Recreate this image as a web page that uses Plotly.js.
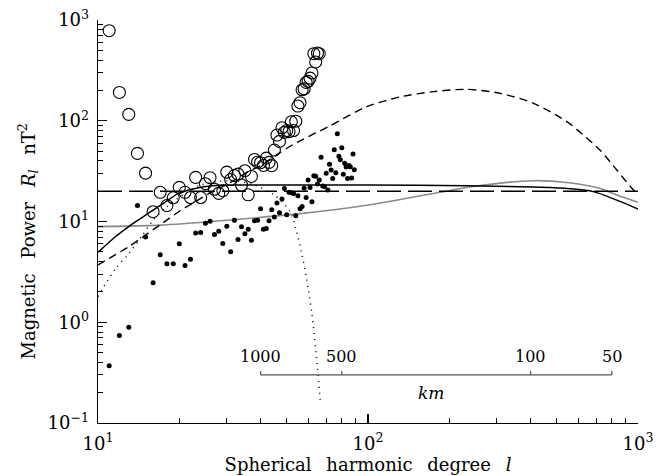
<!DOCTYPE html>
<html>
<head>
<meta charset="utf-8">
<script src="https://cdn.plot.ly/plotly-3.0.1.min.js"></script>
<style>html,body{margin:0;padding:0;background:#fff;}#chart{width:670px;height:476px;}</style>
</head>
<body>
<div id="chart"></div>
<script>
// ---- data ----
const circleDegrees = [11,12,13,14,15,16,17,18,19,20,21,22,23,24,25,26,27,28,29,30,31,32,33,34,35,36,37,38,39,40,41,42,43,44,45,46,47,48,49,50,51,52,53,54,55,56,57,58,59,60,61,62,63,64,65,66];
const circlePower = [783,191,115.6,47.4,30.2,12.5,19.5,14.4,17.2,21.8,19.5,17.3,27.4,17.3,23.7,27.2,20.9,19.0,20.2,30.9,26.1,28.6,29.5,23.0,31.9,18.4,28.0,41.3,38.8,38.3,36.0,42.6,38.6,35.8,51.2,72.1,62.4,85.2,76.5,80,78,97.7,80,99,140,151,203,207,240,246,265,298,463,383,470,463];

const dotDegrees = [11,12,13,14,15,16,17,18,19,20,21,22,23,24,25,26,27,28,29,30,31,32,33,34,35,36,37,38,39,40,41,42,43,44,45,46,47,48,49,50,51,52,53,54,55,56,57,58,59,60,61,62,63,64,65,66,67,68,69,70,71,72,73,74,75,76,77,78,79,80,81,82,83,84,85,86,87,88,89];
const dotPower = [0.37,0.74,0.89,14.4,7.0,2.46,4.67,3.8,3.8,6.0,3.65,4.23,7.71,7.77,9.62,10.07,7.43,8.02,6.04,8.99,5.0,10.3,6.62,8.86,7.55,8.4,6.53,10.2,10.3,13.4,8.38,8.5,10.2,13.1,11.1,15.3,12.2,16.7,21.3,11.7,19.5,19.3,19.0,11.4,18.0,13.4,14.1,21.4,17.3,25.8,21.8,15.7,28.4,28.2,23.6,25.8,43.4,22.5,22.2,30.1,20.5,36.9,32.4,26.7,51.5,30.5,74.5,44.5,41.0,54.0,29.5,37.8,34.8,26.7,36.0,35.0,27.0,46.7,32.6];

const solidDegrees = [10,11.6,13,14.6,16,17.8,19.9,22.9,26.5,35,60,100,232,410,545,684,835,1000];
const solidPower   = [4.94,7.06,8.9,11.0,13.0,15.7,19.0,21.3,22.7,23.0,23.0,23.0,22.6,22.0,21.3,19.8,16.3,13.3];

const longDashDegrees = [10,1000];
const longDashPower   = [20,20];

const shortDashDegrees = [10,11,13,15,17.3,19.9,22.9,26.5,30.5,36.1,40.4,46.7,53.8,71.4,99,132,175,232,309,410,545,628,724,835,963,1000];
const shortDashPower   = [3.7,4.31,5.62,7.34,9.6,12.5,15.7,19.8,23.9,31.3,36.4,47.5,59.7,87.4,138,173,194.5,205,187,149,98,72,51,32.4,20.5,19];

const dottedDegrees = [10,11.6,13,14.6,16,18,21,24,28,33,38,45,51.5,54,57,60,62,65,66.5];
const dottedPower   = [1.8,3.4,4.8,7.3,10.3,14,19,23,25,25,23,18.3,12.5,8.5,4.65,2.2,1.2,0.35,0.17];

const grayDegrees = [10,17,30,55,99,175,252,410,545,724,835,1000];
const grayPower   = [8.9,9.2,10.3,11.9,14.5,19.0,22.5,25.4,24.4,21.3,18.3,15.5];

const xTickVals = [10,100,1000];
const xTickText = ['10<sup>1</sup>','10<sup>2</sup>','10<sup>3</sup>'];
const yTickVals = [0.1,1,10,100,1000];
const yTickText = ['10<sup>\u22121</sup>','10<sup>0</sup>','10<sup>1</sup>','10<sup>2</sup>','10<sup>3</sup>'];

const kmLabels = [1000,500,100,50];
const earthCircumferenceKm = 40000;

const xTitle = 'Spherical\u2002 harmonic\u2002 degree\u2002 <i>l</i>';
const yTitle = 'Magnetic\u2002 Power\u2002 <i>R<sub>l</sub></i>\u2002 nT<sup>2</sup>';

// ---- layout constants ----
const FONT = 'DejaVu Serif';
const scaleLevel = 0.3;     // power level where the km bar sits
const scaleTickUp = 1.095;  // small upward tick factor

const kmDegrees = kmLabels.map(k => earthCircumferenceKm / k);

const scaleX = [kmDegrees[0], kmDegrees[kmDegrees.length-1], null];
const scaleY = [scaleLevel, scaleLevel, null];
kmDegrees.forEach(d => { scaleX.push(d, d, null); scaleY.push(scaleLevel, scaleLevel*scaleTickUp, null); });

const lineBase = {mode:'lines', hoverinfo:'skip', showlegend:false};

const traces = [
  Object.assign({}, lineBase, {x: grayDegrees, y: grayPower, line:{shape:'spline', smoothing:0.8, color:'#8a8a8a', width:1.6}}),
  Object.assign({}, lineBase, {x: longDashDegrees, y: longDashPower, line:{color:'#000', width:1.5, dash:'24px,7px'}}),
  Object.assign({}, lineBase, {x: shortDashDegrees, y: shortDashPower, line:{shape:'spline', smoothing:0.8, color:'#000', width:1.4, dash:'8px,5px'}}),
  Object.assign({}, lineBase, {x: dottedDegrees, y: dottedPower, line:{shape:'spline', smoothing:0.8, color:'#000', width:1.5, dash:'1px,5px'}}),
  Object.assign({}, lineBase, {x: solidDegrees, y: solidPower, line:{shape:'spline', smoothing:0.8, color:'#000', width:1.5}}),
  {x: scaleX, y: scaleY, mode:'lines', hoverinfo:'skip', showlegend:false, line:{color:'#555', width:1.2}},
  {x: circleDegrees, y: circlePower, mode:'markers', showlegend:false,
   marker:{symbol:'circle-open', size:12, color:'#000', line:{width:1.1, color:'#000'}}},
  {x: dotDegrees, y: dotPower, mode:'markers', showlegend:false,
   marker:{symbol:'circle', size:5, color:'#000'}}
];

const annotations = kmLabels.map((k,i) => ({
  x: Math.log10(kmDegrees[i]), y: Math.log10(scaleLevel), xref:'x', yref:'y',
  text: String(k), showarrow:false, yshift:18, font:{family:FONT, size:16, color:'#000'}
}));
annotations.push({
  x: Math.log10(Math.sqrt(kmDegrees[0]*kmDegrees[kmDegrees.length-1])) - 0.02, y: Math.log10(scaleLevel),
  xref:'x', yref:'y', text:'<i>km</i>', showarrow:false, yshift:-18,
  font:{family:FONT, size:17, color:'#000'}
});
// y-axis title placed as annotation (the reference sits slightly below the plot centre)
annotations.push({
  xref:'paper', yref:'paper', x:-0.13, y:0.45, xanchor:'center', yanchor:'middle',
  text: yTitle, textangle:-90, showarrow:false, font:{family:FONT, size:18, color:'#000'}
});

const axisCommon = {
  type:'log', showgrid:false, zeroline:false, showline:true, linecolor:'#000', linewidth:1.3,
  ticks:'inside', ticklen:9, tickwidth:1.2, tickcolor:'#000', tickmode:'array',
  tickfont:{family:FONT, size:18, color:'#000'},
  minor:{ticks:'inside', ticklen:5, tickwidth:1, tickcolor:'#000', dtick:'D1', showgrid:false},
  mirror:false, automargin:false
};

const layout = {
  width:670, height:476,
  margin:{l:98, r:32, t:20, b:53},
  paper_bgcolor:'#fff', plot_bgcolor:'#fff',
  font:{family:FONT, size:18, color:'#000'},
  showlegend:false,
  xaxis: Object.assign({}, axisCommon, {
    range:[1,3], tickvals:xTickVals, ticktext:xTickText, ticklabelstandoff:4,
    title:{text:xTitle, font:{family:FONT, size:18, color:'#000'}, standoff:4}
  }),
  yaxis: Object.assign({}, axisCommon, {
    range:[-1,3], tickvals:yTickVals, ticktext:yTickText, ticklabelstandoff:4
  }),
  annotations: annotations
};

Plotly.newPlot('chart', traces, layout, {staticPlot:true, displayModeBar:false});
</script>
</body>
</html>
